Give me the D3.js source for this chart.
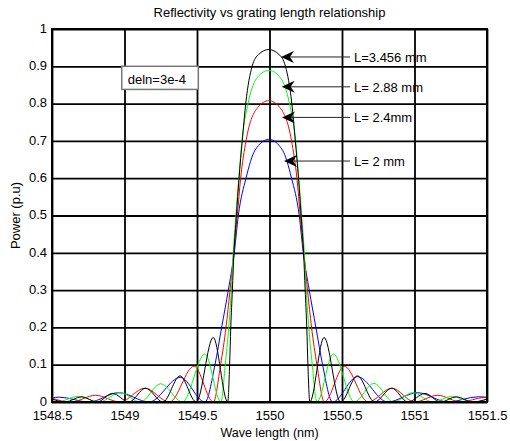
<!DOCTYPE html>
<meta charset="utf-8">
<script src="https://d3js.org/d3.v7.min.js"></script>
<body style="margin:0;background:#fff">
    <div id="viz"></div>
</body>
<style>
    text { font-family: "Liberation Sans", Arial, sans-serif; fill: #000; }
</style>
<script>
    // wavelength (nm) / power (p.u), one pair of arrays per grating length
    let wlL3456 = [1548.5, 1548.59, 1548.705, 1548.81, 1548.918, 1549.03, 1549.146, 1549.265, 1549.383, 1549.495, 1549.612, 1549.712,
        1549.725, 1549.733, 1549.744, 1549.755, 1549.772, 1549.79, 1549.812, 1549.836, 1549.88, 1549.925, 1549.995,
        1550.065, 1550.11, 1550.154, 1550.178, 1550.2, 1550.218, 1550.235, 1550.246, 1550.257, 1550.265, 1550.278,
        1550.376, 1550.49, 1550.606, 1550.725, 1550.843, 1550.955, 1551.072, 1551.18, 1551.29, 1551.4, 1551.5];
    let pL3456 = [0.008, 0, 0.014, 0, 0.023, 0, 0.037, 0, 0.070, 0, 0.173, 0,
        0.10, 0.20, 0.30, 0.40, 0.50, 0.60, 0.70, 0.80, 0.90, 0.932, 0.945,
        0.932, 0.90, 0.80, 0.70, 0.60, 0.50, 0.40, 0.30, 0.20, 0.10, 0,
        0.173, 0, 0.070, 0, 0.037, 0, 0.023, 0, 0.014, 0, 0.008];

    let wlL288 = [1548.5, 1548.535, 1548.68, 1548.825, 1548.97, 1549.11, 1549.25, 1549.40, 1549.555, 1549.665,
        1549.695, 1549.719, 1549.737, 1549.75, 1549.768, 1549.788, 1549.81, 1549.852, 1549.92, 1549.995,
        1550.07, 1550.138, 1550.18, 1550.202, 1550.222, 1550.24, 1550.253, 1550.271, 1550.295, 1550.327,
        1550.44, 1550.585, 1550.72, 1550.855, 1550.99, 1551.125, 1551.26, 1551.395, 1551.5];
    let pL288 = [0.004, 0, 0.015, 0, 0.025, 0, 0.049, 0, 0.129, 0,
        0.10, 0.20, 0.30, 0.40, 0.50, 0.60, 0.70, 0.80, 0.872, 0.889,
        0.872, 0.80, 0.70, 0.60, 0.50, 0.40, 0.30, 0.20, 0.10, 0,
        0.129, 0, 0.050, 0, 0.025, 0, 0.015, 0, 0.006];

    let wlL24 = [1548.5, 1548.63, 1548.80, 1548.97, 1549.14, 1549.31, 1549.48, 1549.613,
        1549.663, 1549.70, 1549.728, 1549.753, 1549.778, 1549.801, 1549.838, 1549.92, 1549.995,
        1550.07, 1550.152, 1550.189, 1550.212, 1550.237, 1550.262, 1550.29, 1550.327, 1550.378,
        1550.516, 1550.68, 1550.845, 1551.0, 1551.16, 1551.32, 1551.48, 1551.5];
    let pL24 = [0.010, 0, 0.018, 0, 0.037, 0, 0.096, 0,
        0.10, 0.20, 0.30, 0.40, 0.50, 0.60, 0.70, 0.79, 0.808,
        0.79, 0.70, 0.60, 0.50, 0.40, 0.30, 0.20, 0.10, 0,
        0.096, 0, 0.037, 0, 0.018, 0, 0.012, 0.011];

    let wlL2 = [1548.5, 1548.55, 1548.755, 1548.96, 1549.17, 1549.385, 1549.555,
        1549.624, 1549.67, 1549.716, 1549.757, 1549.785, 1549.838, 1549.90, 1549.995,
        1550.09, 1550.152, 1550.205, 1550.233, 1550.274, 1550.32, 1550.366, 1550.435,
        1550.606, 1550.815, 1551.02, 1551.23, 1551.44, 1551.5];
    let pL2 = [0.011, 0.013, 0, 0.025, 0, 0.066, 0,
        0.10, 0.20, 0.30, 0.40, 0.50, 0.60, 0.675, 0.704,
        0.675, 0.60, 0.50, 0.40, 0.30, 0.20, 0.10, 0,
        0.068, 0, 0.025, 0, 0.014, 0.013];

    let seriesNames = ["L=3.456 mm", "L= 2.88 mm", "L= 2.4mm", "L= 2 mm"];
    let seriesColors = ["#000000", "#00ff00", "#ff0000", "#0000ff"];
    let seriesWl = [wlL3456, wlL288, wlL24, wlL2];
    let seriesP = [pL3456, pL288, pL24, pL2];

    // arrow tips (data coords) for the labels
    let arrowTipWl = [1550.079, 1550.084, 1550.086, 1550.10];
    let arrowTipP = [0.925, 0.845, 0.763, 0.646];

    let xTicks = [1548.5, 1549, 1549.5, 1550, 1550.5, 1551, 1551.5];
    let yTicks = [0, 0.1, 0.2, 0.3, 0.4, 0.5, 0.6, 0.7, 0.8, 0.9, 1];

    let margin = {top : 29, right : 23, bottom : 39, left : 52},
        width = 510 - margin.left - margin.right,
        height = 441 - margin.top - margin.bottom;

    let root = d3.select("#viz")
        .append("svg")
            .attr("width", 510)
            .attr("height", 441);
    let svg = root.append("g")
        .attr("transform", `translate(${margin.left}, ${margin.top})`);

    let x = d3.scaleLinear().domain([1548.5, 1551.5]).range([0, width]);
    let y = d3.scaleLinear().domain([0, 1]).range([height, 0]);

    svg.append("rect")
        .attr("width", width).attr("height", height)
        .style("fill", "#fff");

    svg.append("clipPath").attr("id", "clip")
        .append("rect").attr("width", width).attr("height", height);

    // grid
    let xAxis = svg.append("g")
        .attr("transform", `translate(0,${height})`)
        .call(d3.axisBottom(x).tickValues(xTicks).tickSize(-height).tickPadding(9).tickFormat(d3.format("")));
    let yAxis = svg.append("g")
        .call(d3.axisLeft(y).tickValues(yTicks).tickSize(-width).tickPadding(5).tickFormat(d3.format("")));
    [xAxis, yAxis].forEach(a => {
        a.select(".domain").remove();
        a.selectAll(".tick line").attr("stroke", "#000").attr("stroke-width", 1.8);
        a.selectAll(".tick text").style("font-size", "13px");
    });
    yAxis.selectAll(".tick text").attr("dy", "0.25em");

    // deln box
    let boxX0 = x(1548.981), boxX1 = x(1549.509), boxY0 = y(0.9), boxY1 = y(0.838);
    svg.append("rect")
        .attr("x", boxX0).attr("y", boxY0)
        .attr("width", boxX1 - boxX0).attr("height", boxY1 - boxY0)
        .style("fill", "#fff").style("stroke", "#777").style("stroke-width", 1.5);
    svg.append("text")
        .attr("x", boxX0 + 6).attr("y", boxY1 - 5)
        .style("font-size", "13px")
        .text("deln=3e-4");

    // curves
    let line = d3.line()
        .x(d => x(d[0]))
        .y(d => y(d[1]))
        .curve(d3.curveMonotoneX);

    svg.append("g").attr("clip-path", "url(#clip)")
        .selectAll("path")
        .data(seriesWl.map((wl, i) => wl.map((w, j) => [w, seriesP[i][j]])).reverse())
        .enter()
        .append("path")
            .attr("d", line)
            .style("fill", "none")
            .style("stroke", (d, i) => seriesColors.slice().reverse()[i])
            .style("stroke-width", 1);

    // frame
    svg.append("rect")
        .attr("width", width).attr("height", height)
        .style("fill", "none").style("stroke", "#000").style("stroke-width", 2);

    // arrows + labels
    let lineEndX = x(1550.555);
    seriesNames.forEach((name, i) => {
        let tx = x(arrowTipWl[i]), ty = y(arrowTipP[i]);
        svg.append("line")
            .attr("x1", tx + 9).attr("y1", ty)
            .attr("x2", lineEndX).attr("y2", ty)
            .style("stroke", "#222").style("stroke-width", 1);
        svg.append("path")
            .attr("d", `M${tx},${ty} L${tx + 13},${ty - 6} L${tx + 9},${ty} L${tx + 13},${ty + 6} Z`)
            .style("fill", "#000");
        svg.append("text")
            .attr("x", lineEndX + 4).attr("y", ty + 5)
            .style("font-size", "13px")
            .text(name);
    });

    // titles
    root.append("text")
        .attr("x", margin.left + width / 2).attr("y", 17)
        .attr("text-anchor", "middle")
        .style("font-size", "13px")
        .text("Reflectivity vs grating length relationship");
    root.append("text")
        .attr("x", margin.left + width / 2).attr("y", 437)
        .attr("text-anchor", "middle")
        .style("font-size", "12.5px")
        .text("Wave length (nm)");
    root.append("text")
        .attr("transform", `translate(20, ${margin.top + height / 2}) rotate(-90)`)
        .attr("text-anchor", "middle")
        .style("font-size", "13px")
        .text("Power (p.u)");
</script>
